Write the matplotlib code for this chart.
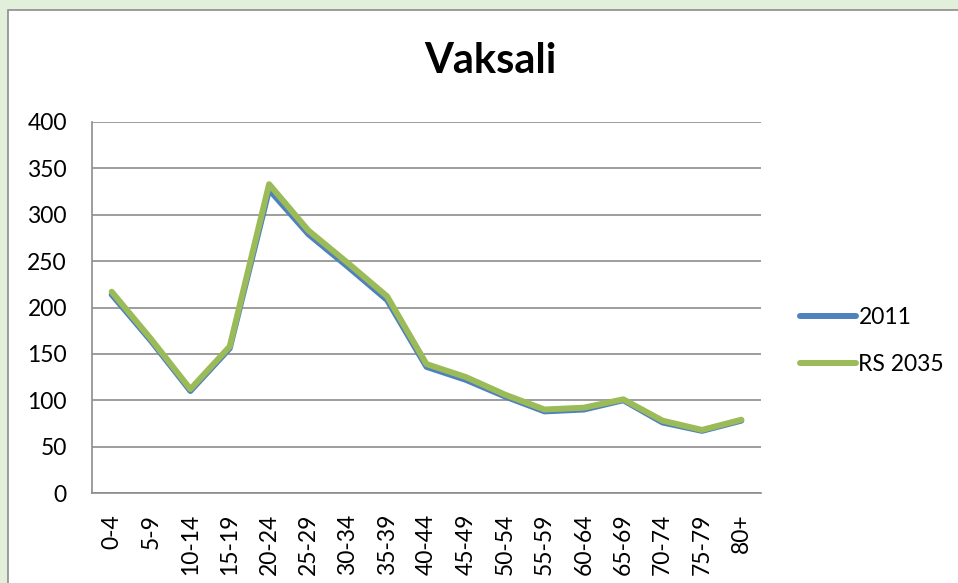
import matplotlib
matplotlib.use('Agg')
import matplotlib.pyplot as plt
from matplotlib.patches import Rectangle

'''
Vaksali - population by age group, 2011 vs RS 2035
'''

age_groups = ['0-4', '5-9', '10-14', '15-19', '20-24', '25-29', '30-34', '35-39',
              '40-44', '45-49', '50-54', '55-59', '60-64', '65-69', '70-74', '75-79', '80+']
pop_2011 = [214, 164, 110, 156, 327, 279, 244, 208, 136, 122, 104, 88, 90, 100, 76, 67, 78]
pop_rs2035 = [217, 166, 112, 158, 333, 283, 248, 212, 139, 125, 106, 90, 92, 101, 78, 68, 79]
y_ticks = [0, 50, 100, 150, 200, 250, 300, 350, 400]

plt.rcParams['font.family'] = ['Lato', 'DejaVu Sans']

W, H = 958, 583
fig = plt.figure(figsize=(W / 100, H / 100), dpi=100)
fig.patch.set_facecolor('#E2EFDA')

# white chart box with gray border (drawn under the axes)
box = Rectangle((8 / W, -0.1), 1.1, (H - 10) / H + 0.1, transform=fig.transFigure,
                facecolor='white', edgecolor='#8C8C8C', linewidth=1.2, zorder=-10)
fig.patches.append(box)

ax = fig.add_axes([92 / W, (H - 493) / H, (761 - 92) / W, (493 - 122) / H])
ax.set_facecolor('none')

x = range(len(age_groups))
ax.plot(x, pop_2011, color='#4F81BD', linewidth=4.3, label='2011', solid_capstyle='round', zorder=3)
ax.plot(x, pop_rs2035, color='#9BBB59', linewidth=4.3, label='RS 2035', solid_capstyle='round', zorder=4)

ax.set_xlim(-0.5, len(age_groups) - 0.5)
ax.set_ylim(0, 400)
ax.set_yticks(y_ticks)
ax.set_xticks(list(x))
ax.set_xticklabels(age_groups, rotation=90, va='top')
ax.tick_params(axis='both', length=0, labelsize=16.5)
ax.tick_params(axis='x', pad=15)
ax.tick_params(axis='y', pad=18)

ax.grid(axis='y', color='#8C8C8C', linewidth=1.2)
ax.set_axisbelow(True)
for side in ['top', 'right']:
    ax.spines[side].set_visible(False)
for side in ['left', 'bottom']:
    ax.spines[side].set_color('#8C8C8C')
    ax.spines[side].set_linewidth(1.2)

fig.text(490 / W, (H - 61) / H, 'Vaksali', ha='center', va='center',
         fontsize=30, fontweight='bold')

ax.legend(loc='center left', bbox_to_anchor=(800 / W, (H - 341) / H),
          bbox_transform=fig.transFigure, frameon=False, fontsize=16.5,
          handlelength=2.45, handletextpad=0.1, borderpad=0, borderaxespad=0,
          labelspacing=1.1)

fig.savefig('out.png', dpi=100, facecolor=fig.get_facecolor())
